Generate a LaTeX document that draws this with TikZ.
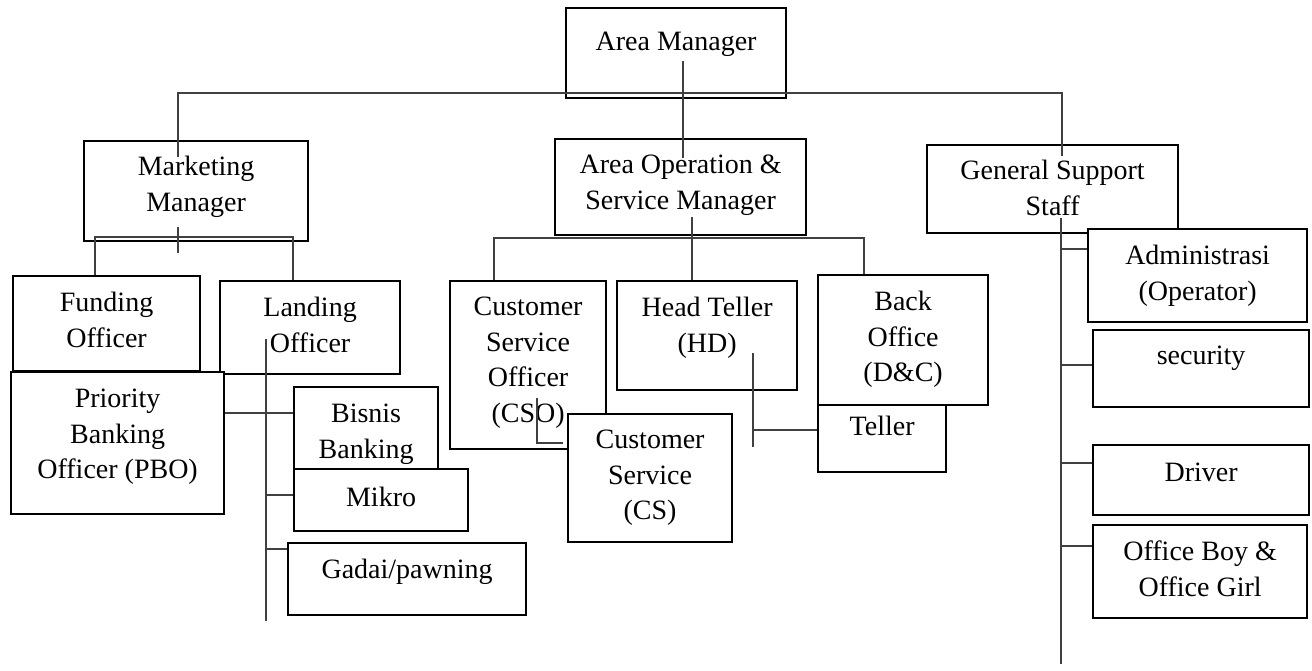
\documentclass[tikz,border=0pt]{standalone}
\usepackage{fontspec}
\setmainfont{Liberation Serif}
\usetikzlibrary{positioning,calc}

\begin{document}
\begin{tikzpicture}[x=1pt, y=-1pt,
    box/.style={draw, line width=2.2pt, fill=white, anchor=north west, inner sep=0pt},
    txt/.style={inner sep=0pt, align=center, font=\fontsize{28}{35.5}\selectfont, execute at begin node=\strut},
    link/.style={line width=1.2pt, black!75}]
\useasboundingbox (0,0) rectangle (1312,670);

% top level
\node[box, minimum width=220pt, minimum height=90pt] (am) at (565,7) {};
\node[txt, below=18pt of am.north] (am-t) {Area Manager};

% marketing side
\node[box, minimum width=224pt, minimum height=100pt] (mm) at (83,140) {};
\node[txt, below=16pt of mm.north] (mm-t) {Marketing\\Manager};
\node[box, minimum width=187pt, minimum height=95pt] (fo) at (12,275) {};
\node[txt, below=17pt of fo.north] (fo-t) {Funding\\Officer};
\node[box, minimum width=180pt, minimum height=93pt] (lo) at (219,280) {};
\node[txt, below=17pt of lo.north] (lo-t) {Landing\\Officer};
\node[box, minimum width=213pt, minimum height=142pt] (pbo) at (10,371) {};
\node[txt, below=18pt of pbo.north] (pbo-t) {Priority\\Banking\\Officer (PBO)};
\node[box, minimum width=144pt, minimum height=82pt] (bb) at (293,386) {};
\node[txt, below=18pt of bb.north] (bb-t) {Bisnis\\Banking};
\node[box, minimum width=174pt, minimum height=62pt] (mik) at (293,468) {};
\node[txt, below=13pt of mik.north] (mik-t) {Mikro};
\node[box, minimum width=238pt, minimum height=72pt] (gad) at (287,542) {};
\node[txt, below=11pt of gad.north] (gad-t) {Gadai/pawning};

% operation side
\node[box, minimum width=251pt, minimum height=96pt] (aosm) at (554,138) {};
\node[txt, below=17pt of aosm.north] (aosm-t) {Area Operation \&\\Service Manager};
\node[box, minimum width=156pt, minimum height=168pt] (cso) at (449,280) {};
\node[txt, below=17pt of cso.north] (cso-t) {Customer\\Service\\Officer\\(CSO)};
\node[box, minimum width=180pt, minimum height=109pt] (ht) at (616,280) {};
\node[txt, below=17pt of ht.north] (ht-t) {Head Teller\\(HD)};
\node[box, minimum width=170pt, minimum height=130pt] (bo) at (817,274) {};
\node[txt, below=17pt of bo.north] (bo-t) {Back\\Office\\(D\&C)};
\node[box, minimum width=128pt, minimum height=67pt] (tel) at (817,404) {};
\node[txt, below=6pt of tel.north] (tel-t) {Teller};
\node[box, minimum width=164pt, minimum height=128pt] (cs) at (567,413) {};
\node[txt, below=17pt of cs.north] (cs-t) {Customer\\Service\\(CS)};

% support side
\node[box, minimum width=251pt, minimum height=88pt] (gss) at (926,144) {};
\node[txt, below=16pt of gss.north] (gss-t) {General Support\\Staff};
\node[box, minimum width=219pt, minimum height=93pt] (adm) at (1087,228) {};
\node[txt, below=17pt of adm.north] (adm-t) {Administrasi\\(Operator)};
\node[box, minimum width=216pt, minimum height=77pt] (sec) at (1092,329) {};
\node[txt, below=10pt of sec.north] (sec-t) {security};
\node[box, minimum width=216pt, minimum height=70pt] (drv) at (1092,444) {};
\node[txt, below=12pt of drv.north] (drv-t) {Driver};
\node[box, minimum width=214pt, minimum height=93pt] (ob) at (1092,524) {};
\node[txt, below=17pt of ob.north] (ob-t) {Office Boy \&\\Office Girl};

% connectors
\coordinate (top-bus) at (683,93);
\coordinate (mm-in) at (178,157);
\coordinate (gss-in) at (1062,156);
\coordinate (am-in) at (683,61);
\coordinate (aosm-in) at (683,158);
\draw[link] (mm-in) -- (mm-in |- top-bus) -| (gss-in);
\draw[link] (am-in) -- (aosm-in);

\coordinate (mm-a) at (178,227);
\coordinate (mm-b) at (178,253);
\coordinate (mm-bus-l) at (95,237);
\coordinate (mm-bus-r) at (293,237);
\draw[link] (mm-a) -- (mm-b);
\draw[link] (mm-bus-l |- fo.north) -- (mm-bus-l) -- (mm-bus-r) -- (mm-bus-r |- lo.north);

\coordinate (lo-top) at (266,339);
\coordinate (lo-end) at (266,621);
\draw[link] (lo-top) -- (lo-end);
\coordinate (lo-pbo) at (266,413);
\draw[link] (lo-pbo -| pbo.east) -- (lo-pbo -| bb.west);
\foreach \n/\y in {mik/495, gad/549} {
  \coordinate (lo-\n) at (266,\y);
  \draw[link] (lo-\n) -- (lo-\n -| \n.west);
}

\coordinate (aosm-a) at (692,217);
\coordinate (aosm-bus-l) at (494,238);
\coordinate (aosm-bus-r) at (864,238);
\draw[link] (aosm-a) -- (aosm-a |- ht.north);
\draw[link] (aosm-bus-l |- cso.north) -- (aosm-bus-l) -- (aosm-bus-r) -- (aosm-bus-r |- bo.north);

\coordinate (cso-a) at (537,398);
\coordinate (cso-b) at (563,443);
\draw[link] (cso-a) |- (cso-b);

\coordinate (ht-a) at (753,353);
\coordinate (ht-b) at (753,447);
\coordinate (ht-c) at (753,430);
\draw[link] (ht-a) -- (ht-b);
\draw[link] (ht-c) -- (ht-c -| tel.west);

\coordinate (gss-a) at (1061,218);
\coordinate (gss-b) at (1061,664);
\draw[link] (gss-a) -- (gss-b);
\foreach \n/\y in {adm/249, sec/365, drv/463, ob/546} {
  \coordinate (gss-\n) at (1061,\y);
  \draw[link] (gss-\n) -- (gss-\n -| \n.west);
}
\end{tikzpicture}
\end{document}
